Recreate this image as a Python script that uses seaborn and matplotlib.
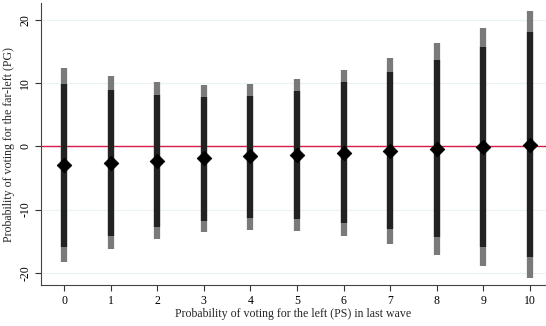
import matplotlib
matplotlib.use("Agg")
import matplotlib.pyplot as plt
import seaborn as sns
import numpy as np
import pandas as pd

# data
ps_prob = [0, 1, 2, 3, 4, 5, 6, 7, 8, 9, 10]
estimate = [-2.9, -2.6, -2.3, -1.9, -1.6, -1.3, -1.05, -0.7, -0.4, -0.1, 0.2]
ci95_low = [-15.9, -14.1, -12.8, -11.8, -11.4, -11.5, -12.1, -13.1, -14.4, -15.9, -17.5]
ci95_high = [9.9, 8.9, 8.1, 7.8, 8.0, 8.8, 10.1, 11.7, 13.6, 15.7, 18.0]
ci99_low = [-18.3, -16.3, -14.6, -13.6, -13.2, -13.4, -14.2, -15.5, -17.1, -18.9, -20.8]
ci99_high = [12.4, 11.1, 10.1, 9.7, 9.9, 10.7, 12.1, 14.0, 16.3, 18.7, 21.3]
y_ticks = [-20, -10, 0, 10, 20]

df = pd.DataFrame({
    'x': ps_prob, 'est': estimate,
    'lo95': ci95_low, 'hi95': ci95_high,
    'lo99': ci99_low, 'hi99': ci99_high,
})

sns.set_theme(style="white")
plt.rcParams['font.family'] = ['Liberation Serif', 'DejaVu Serif']

fig = plt.figure(figsize=(5.46, 3.26), dpi=100)
ax = fig.add_axes([0.075, 0.126, 0.925, 0.864])

for t in y_ticks:
    ax.axhline(t, color='#eaf2f3', lw=0.8, zorder=0)

ax.axhline(0, color='#d81b4a', lw=1.0, zorder=1)

ax.vlines(df['x'], df['lo99'], df['hi99'], color='#7a7a7a', lw=4.5, zorder=2)
ax.vlines(df['x'], df['lo95'], df['hi95'], color='#222222', lw=4.5, zorder=3)
sns.scatterplot(data=df, x='x', y='est', marker='D', s=55, color='black',
                edgecolor='black', zorder=4, ax=ax)

ax.set_xlim(-0.5, 10.35)
ax.set_ylim(-21.9, 22.6)
ax.set_xticks(ps_prob)
ax.set_yticks(y_ticks)
ax.set_yticklabels([str(t) for t in y_ticks], rotation=90, va='center')
ax.tick_params(axis='both', direction='out', length=4, width=0.8, colors='#333333',
               labelsize=8.5, labelcolor='black', bottom=True, left=True, pad=3)
ax.set_xlabel('Probability of voting for the left (PS) in last wave', fontsize=8.6, labelpad=1)
ax.set_ylabel('Probability of voting for the far-left (PG)', fontsize=8.6, labelpad=3)

for side in ['top', 'right']:
    ax.spines[side].set_visible(False)
for side in ['left', 'bottom']:
    ax.spines[side].set_color('#444444')
    ax.spines[side].set_linewidth(0.8)
ax.grid(False)

fig.savefig('out.png', dpi=100)
